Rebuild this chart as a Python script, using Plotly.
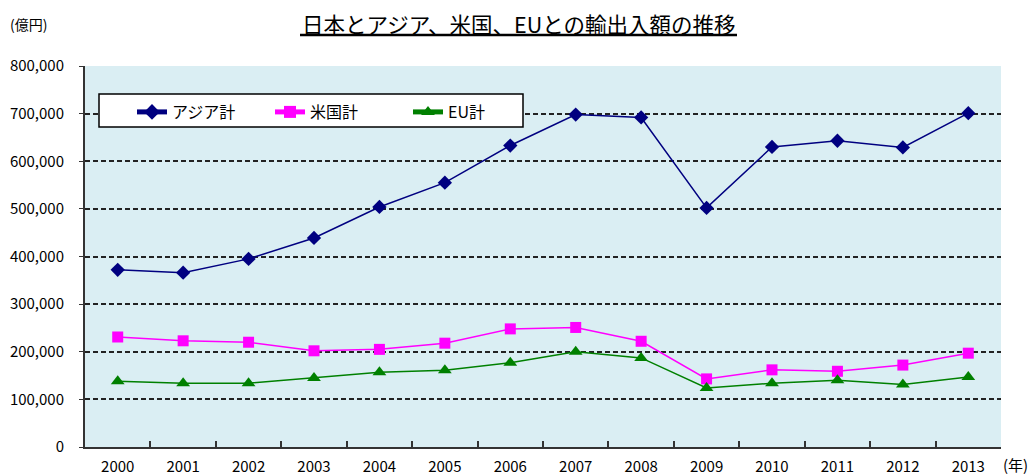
import plotly.graph_objects as go

years = ["2000", "2001", "2002", "2003", "2004", "2005", "2006",
         "2007", "2008", "2009", "2010", "2011", "2012", "2013"]
asia = [372000, 366000, 395000, 439000, 504000, 555000, 633000,
        698000, 692000, 502000, 630000, 643000, 629000, 701000]
usa = [231000, 223000, 220000, 202000, 205000, 218000, 248000,
       251000, 222000, 143000, 162000, 159000, 172000, 197000]
eu = [138000, 134000, 134000, 145000, 157000, 161000, 177000,
      200000, 187000, 124000, 134000, 140000, 131000, 147000]
series_names = ["アジア計", "米国計", "EU計"]
y_ticks = [0, 100000, 200000, 300000, 400000, 500000, 600000, 700000, 800000]

FONT = "Noto Sans CJK JP"
W, H = 1032, 475
ML, MR, MT, MB = 85, 31, 66, 28
PW, PH = W - ML - MR, H - MT - MB


def px(x):
    return (x - ML) / PW


def py(y):
    return (H - MB - y) / PH


fig = go.Figure()
fig.add_trace(go.Scatter(x=years, y=asia, name=series_names[0], mode="lines+markers",
                         line=dict(color="#000080", width=1.5),
                         marker=dict(symbol="diamond", size=11, color="#000080")))
fig.add_trace(go.Scatter(x=years, y=usa, name=series_names[1], mode="lines+markers",
                         line=dict(color="#FF00FF", width=1.5),
                         marker=dict(symbol="square", size=11, color="#FF00FF")))
fig.add_trace(go.Scatter(x=years, y=eu, name=series_names[2], mode="lines+markers",
                         line=dict(color="#008000", width=1.5),
                         marker=dict(symbol="triangle-up", size=12, color="#008000")))

fig.update_layout(
    width=W, height=H,
    margin=dict(l=ML, r=MR, t=MT, b=MB, autoexpand=False),
    paper_bgcolor="white",
    plot_bgcolor="#DAEEF3",
    font=dict(family=FONT, size=15, color="black"),
    showlegend=True,
    legend=dict(orientation="h", x=px(132), y=py(95), xanchor="left", yanchor="top",
                bgcolor="rgba(0,0,0,0)", borderwidth=0,
                font=dict(size=16, family=FONT), entrywidth=93,
                itemsizing="constant"),
    shapes=[
        dict(type="rect", xref="paper", yref="paper", layer="above",
             x0=px(99), x1=px(523), y0=py(127), y1=py(94),
             fillcolor="white", line=dict(color="black", width=1.5)),
        dict(type="line", xref="paper", yref="paper",
             x0=px(300), x1=px(737), y0=py(35), y1=py(35),
             line=dict(color="black", width=2.5)),
    ],
    annotations=[
        dict(text="日本とアジア、米国、EUとの輸出入額の推移", x=px(518), y=py(24),
             xanchor="center", yanchor="middle",
             xref="paper", yref="paper", showarrow=False,
             font=dict(size=21.5, family=FONT, color="black")),
        dict(text="(億円)", x=px(8), y=py(24), xanchor="left", yanchor="middle",
             xref="paper", yref="paper", showarrow=False,
             font=dict(size=14, family=FONT)),
        dict(text="(年)", x=px(1001), y=py(465), xanchor="left", yanchor="middle",
             xref="paper", yref="paper", showarrow=False,
             font=dict(size=15, family=FONT)),
    ],
)

fig.update_xaxes(
    type="category", showgrid=False, showline=True, linecolor="#333333", linewidth=2,
    ticks="inside", tickson="boundaries", ticklen=6, tickcolor="#333333", tickwidth=1.5,
    tickfont=dict(size=15, family=FONT), range=[-0.5, 13.5], automargin=False,
    ticklabelstandoff=5,
)
fig.update_yaxes(
    range=[0, 800000], tickvals=y_ticks, tickformat=",", showline=True,
    linecolor="#333333", linewidth=2, ticks="outside", ticklen=4, tickcolor="#333333",
    showgrid=True, gridcolor="#222222", gridwidth=1.5, griddash="5px,3px",
    zeroline=False, tickfont=dict(size=15, family=FONT), automargin=False,
    ticklabelstandoff=12,
)

fig.write_html("out.html", config={"displayModeBar": False},
               post_script="document.body.style.margin='0';")
